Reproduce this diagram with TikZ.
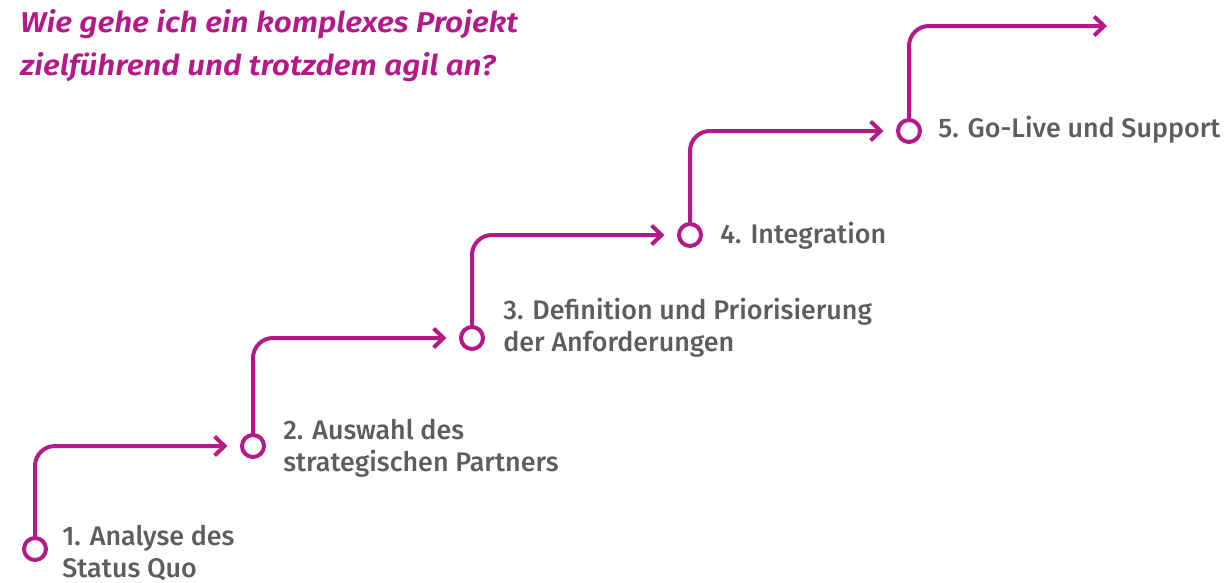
\documentclass[tikz,border=0pt]{standalone}
\usepackage{fontspec}
\setmainfont{Fira Sans}
\newfontfamily\headfont{Fira Sans SemiBold Italic}[FakeStretch=1.1]
\newfontfamily\stepfont{Fira Sans Medium}
\usetikzlibrary{arrows.meta}
\definecolor{plum}{RGB}{180,25,135}
\definecolor{slate}{RGB}{92,93,97}
\begin{document}
\begin{tikzpicture}[x=0.02cm,y=-0.02cm,
    stop/.style={circle,draw=plum,fill=white,line width=0.08cm,minimum size=0.44cm,inner sep=0pt},
    flow/.style={draw=plum,line width=0.08cm,rounded corners=0.4cm,line cap=round,line join=round,
      -{Straight Barb[length=0.2cm,width=0.38cm]}},
    steptext/.style={anchor=base west,inner sep=0pt,align=left,text=slate,
      font=\stepfont\fontsize{15.3}{18}\selectfont}]
  \useasboundingbox (0,0) rectangle (1224,582);
  \node[anchor=base west,inner sep=0pt,align=left,text=plum,
    font=\headfont\fontsize{16.3}{24.4}\selectfont] (title) at (20,75)
    {Wie gehe ich ein komplexes Projekt\\zielführend und trotzdem agil an?};
  % the five stations
  \node[stop] (s1) at (35,549) {};
  \node[stop] (s2) at (253,446) {};
  \node[stop] (s3) at (472,338) {};
  \node[stop] (s4) at (690,235) {};
  \node[stop] (s5) at (909,131) {};
  \coordinate (goal) at (1107,26);
  % steps up the stairs
  \draw[flow,shorten >=0.25cm] (s1) |- (s2);
  \draw[flow,shorten >=0.25cm] (s2) |- (s3);
  \draw[flow,shorten >=0.25cm] (s3) |- (s4);
  \draw[flow,shorten >=0.25cm] (s4) |- (s5);
  \draw[flow] (s5) |- (goal);
  % labels, anchored on their last line
  \node[steptext] (t1) at (62,577) {1. Analyse des\\Status Quo};
  \node[steptext] (t2) at (283,471) {2. Auswahl des\\strategischen Partners};
  \node[steptext] (t3) at (503,351) {3. Definition und Priorisierung\\der Anforderungen};
  \node[steptext] (t4) at (720,243) {4. Integration};
  \node[steptext] (t5) at (938,137) {5. Go-Live und Support};
\end{tikzpicture}
\end{document}
